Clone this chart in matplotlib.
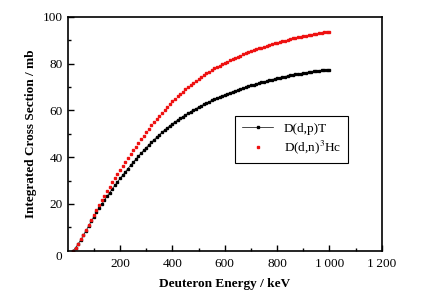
import matplotlib
matplotlib.use('Agg')
import matplotlib.pyplot as plt
import numpy as np

# deuteron energy, keV (10 keV steps)
energy = np.arange(20, 1001, 10)

# D(d,p)T integrated cross section, mb
dp_t = [0.0, 1.2, 2.9, 4.6, 6.6, 8.6, 10.6, 12.6, 14.5, 16.4,
        18.2, 19.9, 21.6, 23.2, 24.8, 26.4, 27.9, 29.4, 30.9, 32.3,
        33.7, 35.1, 36.5, 37.8, 39.1, 40.4, 41.7, 42.9, 44.1, 45.3,
        46.4, 47.5, 48.6, 49.6, 50.6, 51.6, 52.5, 53.4, 54.3, 55.1,
        55.9, 56.7, 57.4, 58.1, 58.8, 59.5, 60.2, 60.8, 61.4, 62.0,
        62.6, 63.2, 63.7, 64.3, 64.8, 65.3, 65.8, 66.3, 66.7, 67.2,
        67.6, 68.0, 68.4, 68.8, 69.2, 69.6, 70.0, 70.3, 70.7, 71.0,
        71.4, 71.7, 72.0, 72.3, 72.6, 72.9, 73.2, 73.5, 73.8, 74.0,
        74.3, 74.5, 74.8, 75.0, 75.2, 75.4, 75.6, 75.8, 76.0, 76.2,
        76.4, 76.5, 76.7, 76.8, 77.0, 77.1, 77.3, 77.4, 77.5]

# D(d,n)3He integrated cross section, mb
dn_he = [0.0, 1.3, 3.0, 4.8, 6.9, 9.0, 11.1, 13.2, 15.3, 17.4,
         19.5, 21.5, 23.5, 25.4, 27.3, 29.2, 31.0, 32.8, 34.6, 36.3,
         38.0, 39.7, 41.3, 42.9, 44.5, 46.1, 47.6, 49.1, 50.6, 52.1,
         53.6, 55.0, 56.4, 57.7, 59.0, 60.3, 61.5, 62.7, 63.9, 65.0,
         66.1, 67.1, 68.1, 69.1, 70.0, 70.9, 71.8, 72.7, 73.5, 74.3,
         75.1, 75.9, 76.6, 77.3, 78.0, 78.6, 79.2, 79.8, 80.4, 80.9,
         81.5, 82.0, 82.5, 83.0, 83.5, 84.0, 84.4, 84.9, 85.3, 85.7,
         86.1, 86.5, 86.9, 87.3, 87.7, 88.0, 88.4, 88.7, 89.0, 89.3,
         89.6, 89.9, 90.2, 90.5, 90.8, 91.0, 91.3, 91.5, 91.8, 92.0,
         92.2, 92.4, 92.6, 92.8, 93.0, 93.2, 93.4, 93.5, 93.7]

x_ticks = [200, 400, 600, 800, 1000, 1200]
x_tick_labels = ['200', '400', '600', '800', '1\u2009000', '1\u2009200']
y_ticks = [20, 40, 60, 80, 100]

plt.rcParams['font.family'] = ['Liberation Serif', 'DejaVu Serif']
plt.rcParams['mathtext.fontset'] = 'stix'

fig = plt.figure(figsize=(4.31, 3.08), dpi=100)
ax = fig.add_axes([0.157, 0.186, 0.729, 0.759])

ax.plot(energy, dp_t, color='black', lw=0.5, marker='s', ms=1.9,
        mec='black', mfc='black', label='D(d,p)T')
ax.plot(energy, dn_he, ls='none', color='#ee1111', marker='s', ms=1.9,
        mec='#ee1111', mfc='#ee1111', label='D(d,n)$^3$Hc')

ax.set_xlim(0, 1200)
ax.set_ylim(0, 100)
ax.set_xticks(x_ticks)
ax.set_xticklabels(x_tick_labels)
ax.set_xticks(np.arange(100, 1200, 200), minor=True)
ax.set_yticks(y_ticks)
ax.set_yticks(np.arange(10, 100, 20), minor=True)
ax.text(-0.018, -0.025, '0', transform=ax.transAxes, ha='right',
        va='center', fontsize=9.5)

ax.tick_params(which='both', direction='in', top=False, right=False,
               labelsize=9.5, width=1.0)
ax.tick_params(which='major', length=4.5)
ax.tick_params(which='minor', length=2.5)
ax.tick_params(axis='x', pad=5)
for side in ax.spines.values():
    side.set_linewidth(1.2)

ax.set_xlabel('Deuteron Energy / keV', fontsize=9.5, fontweight='bold',
              labelpad=6)
ax.set_ylabel('Integrated Cross Section / mb', fontsize=9.5,
              fontweight='bold', labelpad=4)

leg = ax.legend(loc='upper left', bbox_to_anchor=(0.533, 0.576),
                borderaxespad=0, fancybox=False, framealpha=1,
                edgecolor='black', fontsize=9.5, handlelength=2.4,
                markerscale=1.0, borderpad=0.5, labelspacing=0.3)
leg.get_frame().set_linewidth(0.8)

fig.savefig('out.png', dpi=100)
